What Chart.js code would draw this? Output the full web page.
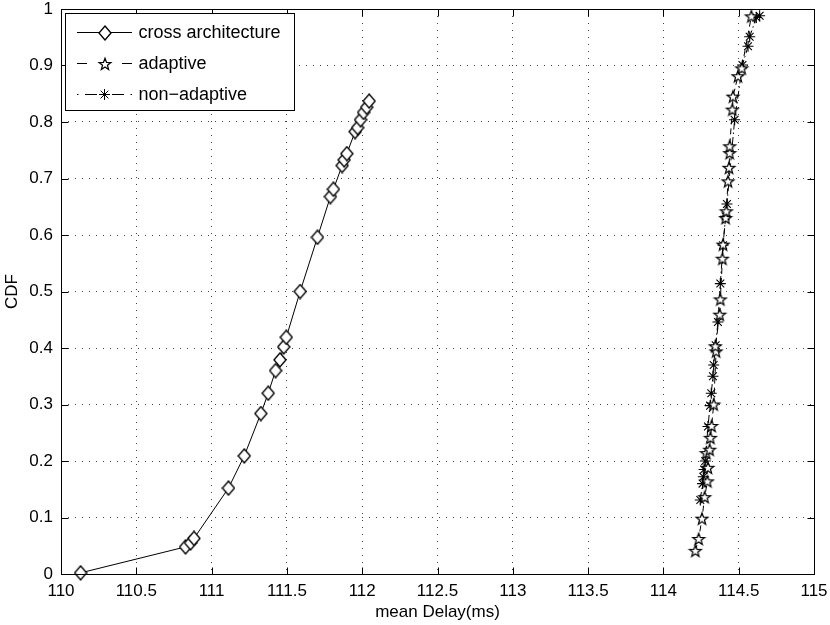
<!DOCTYPE html>
<html><head><meta charset="utf-8">
<script src="https://cdn.jsdelivr.net/npm/chart.js@4.4.1/dist/chart.umd.min.js"></script>
<style>html,body{margin:0;padding:0;background:#fff}#wrap{width:830px;height:625px}</style>
</head><body><div id="wrap"><canvas id="c" width="830" height="625"></canvas></div>
<script>
const seriesNames = ['cross architecture', 'adaptive', 'non\u2212adaptive'];

const crossX = [110.13,110.827,110.86,110.883,111.112,111.217,111.327,111.376,111.425,111.454,111.479,111.496,111.588,111.703,111.789,111.809,111.867,111.88,111.898,111.953,111.97,111.989,112.009,112.03,112.046];
const crossY = [0.002,0.048,0.055,0.063,0.152,0.209,0.284,0.320,0.360,0.379,0.402,0.419,0.500,0.596,0.668,0.681,0.723,0.733,0.744,0.783,0.790,0.804,0.817,0.826,0.837];

const adaptiveX = [114.212,114.234,114.256,114.274,114.292,114.296,114.285,114.307,114.312,114.32,114.334,114.35,114.345,114.374,114.378,114.392,114.396,114.413,114.418,114.429,114.436,114.44,114.44,114.458,114.462,114.495,114.52,114.584];
const adaptiveY = [0.041,0.062,0.098,0.136,0.164,0.188,0.214,0.220,0.241,0.262,0.300,0.394,0.403,0.459,0.486,0.558,0.583,0.630,0.642,0.695,0.719,0.745,0.757,0.822,0.845,0.881,0.895,0.987];

const nonAdaptiveX = [114.245,114.26,114.265,114.27,114.278,114.296,114.31,114.318,114.329,114.334,114.347,114.362,114.378,114.396,114.413,114.422,114.473,114.525,114.562,114.573,114.617,114.639];
const nonAdaptiveY = [0.131,0.160,0.172,0.185,0.200,0.261,0.298,0.320,0.350,0.370,0.405,0.446,0.514,0.582,0.633,0.655,0.804,0.901,0.934,0.951,0.985,0.988];

const xTickValues = [110,110.5,111,111.5,112,112.5,113,113.5,114,114.5,115];
const xTickLabels = ['110','110.5','111','111.5','112','112.5','113','113.5','114','114.5','115'];
const yTickValues = [0,0.1,0.2,0.3,0.4,0.5,0.6,0.7,0.8,0.9,1];
const yTickLabels = ['0','0.1','0.2','0.3','0.4','0.5','0.6','0.7','0.8','0.9','1'];

const xTitle = 'mean Delay(ms)';
const yTitle = 'CDF';

const FONT = '"Liberation Sans", Arial, Helvetica, sans-serif';
Chart.defaults.font.family = FONT;
Chart.defaults.color = '#000';

function makeDiamond(w, h) {
  const c = document.createElement('canvas');
  c.width = w + 2; c.height = h + 2;
  const g = c.getContext('2d');
  const cx = (w + 2) / 2, cy = (h + 2) / 2;
  g.beginPath();
  g.moveTo(cx, cy - h / 2); g.lineTo(cx + w / 2, cy); g.lineTo(cx, cy + h / 2); g.lineTo(cx - w / 2, cy); g.closePath();
  g.fillStyle = '#fff'; g.fill();
  g.strokeStyle = '#000'; g.lineWidth = 1.35; g.stroke();
  return c;
}
function makePentagram(R, r) {
  const s = Math.ceil(2 * R + 3);
  const c = document.createElement('canvas');
  c.width = s; c.height = s;
  const g = c.getContext('2d');
  const cx = s / 2, cy = s / 2 + 0.5;
  g.beginPath();
  for (let i = 0; i < 10; i++) {
    const rad = (i % 2 === 0) ? R : r;
    const a = -Math.PI / 2 + i * Math.PI / 5;
    const px = cx + rad * Math.cos(a), py = cy + rad * Math.sin(a);
    if (i === 0) g.moveTo(px, py); else g.lineTo(px, py);
  }
  g.closePath();
  g.fillStyle = '#fff'; g.fill();
  g.strokeStyle = '#000'; g.lineWidth = 1.25; g.stroke();
  return c;
}
const diamondImg = makeDiamond(12, 14);
const starImg = makePentagram(6.2, 2.6);

function pts(xs, ys) { return xs.map((x, i) => ({x: x, y: ys[i]})); }

function drawAsterisk(ctx, x, y, r) {
  ctx.beginPath();
  ctx.moveTo(x - r, y); ctx.lineTo(x + r, y);
  ctx.moveTo(x, y - r); ctx.lineTo(x, y + r);
  const d = r * Math.SQRT1_2;
  ctx.moveTo(x - d, y - d); ctx.lineTo(x + d, y + d);
  ctx.moveTo(x - d, y + d); ctx.lineTo(x + d, y - d);
  ctx.stroke();
}

const framePlugin = {
  id: 'frame',
  afterDraw(chart) {
    const {ctx, chartArea: a, scales: {x, y}} = chart;
    ctx.save();
    ctx.strokeStyle = '#000'; ctx.lineWidth = 1; ctx.setLineDash([]);
    const L = Math.round(a.left) + 0.5, R = Math.round(a.right) + 0.5;
    const T = Math.round(a.top) + 0.5, B = Math.round(a.bottom) + 0.5;
    ctx.strokeRect(L, T, R - L, B - T);
    const tl = 7;
    ctx.beginPath();
    x.ticks.forEach(t => {
      const px = Math.round(x.getPixelForValue(t.value)) + 0.5;
      ctx.moveTo(px, B); ctx.lineTo(px, B - tl);
      ctx.moveTo(px, T); ctx.lineTo(px, T + tl);
    });
    y.ticks.forEach(t => {
      const py = Math.round(y.getPixelForValue(t.value)) + 0.5;
      ctx.moveTo(L, py); ctx.lineTo(L + tl, py);
      ctx.moveTo(R, py); ctx.lineTo(R - tl, py);
    });
    ctx.stroke();

    // legend
    const lx = L + 4, ly = T + 4, lw = 229, lh = 97;
    ctx.fillStyle = '#fff';
    ctx.fillRect(lx, ly, lw, lh);
    ctx.strokeRect(lx, ly, lw, lh);
    const rows = [ly + 18.5, ly + 49.5, ly + 80.5];
    const s0 = lx + 11.5, s1 = lx + 66.5, mid = (s0 + s1) / 2;
    ctx.font = '18px ' + FONT;
    ctx.textBaseline = 'middle';
    ctx.textAlign = 'left';
    ctx.fillStyle = '#000';
    let ry = Math.round(rows[0]) + 0.5;
    ctx.beginPath(); ctx.moveTo(s0, ry); ctx.lineTo(s1, ry); ctx.stroke();
    ctx.drawImage(diamondImg, Math.round(mid - diamondImg.width / 2), Math.round(ry - diamondImg.height / 2));
    ctx.fillText(seriesNames[0], lx + 73, rows[0] + 1);
    ry = Math.round(rows[1]) + 0.5;
    ctx.beginPath();
    ctx.moveTo(s0, ry); ctx.lineTo(s0 + 10, ry);
    ctx.moveTo(s1 - 10, ry); ctx.lineTo(s1, ry);
    ctx.stroke();
    ctx.drawImage(starImg, Math.round(mid - starImg.width / 2), Math.round(ry - starImg.height / 2));
    ctx.fillText(seriesNames[1], lx + 73, rows[1] + 1);
    ry = Math.round(rows[2]) + 0.5;
    ctx.beginPath();
    ctx.moveTo(s0, ry); ctx.lineTo(s0 + 1.5, ry);
    ctx.moveTo(s0 + 8, ry); ctx.lineTo(s0 + 20, ry);
    ctx.moveTo(s1 - 20, ry); ctx.lineTo(s1 - 8, ry);
    ctx.moveTo(s1 - 1.5, ry); ctx.lineTo(s1, ry);
    ctx.stroke();
    drawAsterisk(ctx, mid, ry, 5.5);
    ctx.fillText(seriesNames[2], lx + 73, rows[2] + 1);
    ctx.restore();
  }
};

new Chart(document.getElementById('c'), {
  type: 'scatter',
  data: {
    datasets: [
      {
        label: seriesNames[0], data: pts(crossX, crossY), showLine: true,
        borderColor: '#000', borderWidth: 1, backgroundColor: '#fff',
        pointStyle: diamondImg, pointRadius: 7, pointHoverRadius: 7, clip: false
      },
      {
        label: seriesNames[1], data: pts(adaptiveX, adaptiveY), showLine: true,
        borderColor: '#000', borderWidth: 1, borderDash: [6, 4], backgroundColor: '#fff',
        pointStyle: starImg, pointRadius: 7, clip: false
      },
      {
        label: seriesNames[2], data: pts(nonAdaptiveX, nonAdaptiveY), showLine: true,
        borderColor: '#000', borderWidth: 1, borderDash: [8, 3, 1.5, 3], backgroundColor: '#000',
        pointStyle: 'star', pointRadius: 5.5, pointBorderWidth: 1.1, pointBorderColor: '#000', clip: false
      }
    ]
  },
  options: {
    responsive: false,
    animation: false,
    devicePixelRatio: 1,
    layout: {padding: {left: 0, top: 9, right: 16, bottom: 0}},
    plugins: {legend: {display: false}, tooltip: {enabled: false}},
    scales: {
      x: {
        type: 'linear', min: 110, max: 115,
        afterBuildTicks: s => { s.ticks = xTickValues.map(v => ({value: v})); },
        afterFit: s => { s.height = 51; s.paddingLeft = 0; s.paddingRight = 0; },
        ticks: {callback: (v, i) => xTickLabels[i], font: {size: 17}, color: '#000', padding: 7, maxRotation: 0, autoSkip: false},
        grid: {color: '#444', lineWidth: 1, drawTicks: false},
        border: {display: false, dash: [1, 6]},
        title: {display: true, text: xTitle, font: {size: 17}, color: '#000', padding: {top: 0, bottom: 2}}
      },
      y: {
        type: 'linear', min: 0, max: 1,
        afterBuildTicks: s => { s.ticks = yTickValues.map(v => ({value: v})); },
        afterFit: s => { s.width = 61; s.paddingTop = 0; s.paddingBottom = 0; },
        ticks: {callback: (v, i) => yTickLabels[i], font: {size: 17}, color: '#000', padding: 8, autoSkip: false},
        grid: {color: '#444', lineWidth: 1, drawTicks: false},
        border: {display: false, dash: [1, 6]},
        title: {display: true, text: yTitle, font: {size: 17}, color: '#000', padding: {top: 2, bottom: 0}}
      }
    }
  },
  plugins: [framePlugin]
});
</script>
</body></html>
